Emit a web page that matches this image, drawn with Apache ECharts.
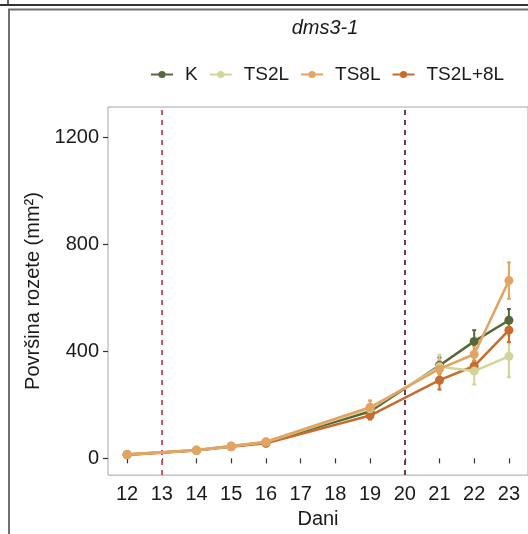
<!DOCTYPE html>
<html>
<head>
<meta charset="utf-8">
<script src="https://cdn.jsdelivr.net/npm/echarts@6/dist/echarts.min.js"></script>
<style>
	html, body { margin: 0; padding: 0; background: #fff; }
	#chart { width: 528px; height: 534px; }
</style>
</head>
<body>
<div id="chart"></div>
<script>
// dani mjerenja
var days = [12, 14, 15, 16, 19, 21, 22, 23];
var xTicks = [12, 13, 14, 15, 16, 17, 18, 19, 20, 21, 22, 23];
var yTicks = [0, 400, 800, 1200];
var names = ['K', 'TS2L', 'TS8L', 'TS2L+8L'];

// srednje vrijednosti (mm2)
var valK = [14, 30, 45, 60, 175, 347, 437, 516];
var valTS2L = [14, 30, 45, 61, 186, 342, 326, 381];
var valTS8L = [15, 31, 46, 62, 191, 334, 389, 664];
var valTS2L8L = [13, 29, 43, 56, 160, 292, 345, 479];

// standardna greska
var errK = [3, 3, 4, 5, 15, 30, 42, 42];
var errTS2L = [3, 3, 4, 5, 30, 45, 50, 78];
var errTS8L = [3, 3, 4, 6, 25, 30, 30, 68];
var errTS2L8L = [3, 3, 4, 5, 15, 35, 20, 45];

// vertikalne linije (tretmani)
var markDays = [13, 20];

var colors = {
	'K': '#56683a',
	'TS2L': '#d3d49a',
	'TS8L': '#e3a463',
	'TS2L+8L': '#c66c2c'
};

var font = 'Liberation Sans, Arial, Helvetica, sans-serif';

function pts(vals) {
	var list = [];
	for (var i = 0; i < days.length; i++) {
		list.push([days[i], vals[i]]);
	}
	return list;
}

function errs(vals, e) {
	var list = [];
	for (var i = 0; i < days.length; i++) {
		list.push([days[i], vals[i] - e[i], vals[i] + e[i]]);
	}
	return list;
}

function errSeries(name, vals, e) {
	var c = colors[name];
	return {
		name: name + '_err',
		type: 'custom',
		z: 2,
		silent: true,
		encode: { x: 0, y: [1, 2] },
		data: errs(vals, e),
		renderItem: function (params, api) {
			var top = api.coord([api.value(0), api.value(2)]);
			var bot = api.coord([api.value(0), api.value(1)]);
			var st = { stroke: c, lineWidth: 2 };
			return {
				type: 'group',
				children: [
					{ type: 'line', shape: { x1: top[0], y1: top[1], x2: bot[0], y2: bot[1] }, style: st },
					{ type: 'line', shape: { x1: top[0] - 2, y1: top[1], x2: top[0] + 2, y2: top[1] }, style: st },
					{ type: 'line', shape: { x1: bot[0] - 2, y1: bot[1], x2: bot[0] + 2, y2: bot[1] }, style: st }
				]
			};
		}
	};
}

function lineSeries(name, vals, z) {
	return {
		name: name,
		type: 'line',
		z: z,
		data: pts(vals),
		symbol: 'circle',
		symbolSize: 9,
		showSymbol: true,
		itemStyle: { color: colors[name] },
		lineStyle: { color: colors[name], width: 2.5 },
		emphasis: { disabled: true }
	};
}

var series = [
	errSeries('K', valK, errK),
	errSeries('TS2L', valTS2L, errTS2L),
	errSeries('TS2L+8L', valTS2L8L, errTS2L8L),
	errSeries('TS8L', valTS8L, errTS8L),
	lineSeries('K', valK, 3),
	lineSeries('TS2L+8L', valTS2L8L, 4),
	lineSeries('TS2L', valTS2L, 5),
	lineSeries('TS8L', valTS8L, 6)
];

// isprekidane linije
series.push({
	name: 'marks',
	type: 'line',
	data: [],
	silent: true,
	markLine: {
		symbol: 'none',
		silent: true,
		label: { show: false },
		data: [
			{ xAxis: markDays[0], lineStyle: { color: '#c9566b', width: 2, type: [5, 5] } },
			{ xAxis: markDays[1], lineStyle: { color: '#6d3d52', width: 2, type: [5, 5] } }
		]
	}
});

var option = {
	animation: false,
	backgroundColor: '#fff',
	title: {
		text: 'dms3-1',
		left: 320,
		textAlign: 'center',
		top: 13,
		textStyle: {
			fontFamily: font,
			fontStyle: 'italic',
			fontWeight: 'normal',
			fontSize: 20,
			color: '#1a1a1a'
		}
	},
	legend: {
		data: names,
		left: 145,
		top: 60,
		itemWidth: 22,
		itemHeight: 9,
		itemGap: 11,
		textStyle: { fontFamily: font, fontSize: 19, color: '#1a1a1a', padding: [0, 0, 0, 7] }
	},
	grid: {
		left: 108,
		top: 107,
		width: 423,
		height: 369,
		show: true,
		borderColor: '#a6a6a6',
		borderWidth: 1,
		containLabel: false
	},
	xAxis: {
		type: 'value',
		min: 11.45,
		max: 23.55,
		name: 'Dani',
		nameLocation: 'middle',
		nameGap: 31,
		nameTextStyle: { fontFamily: font, fontSize: 20, color: '#1a1a1a' },
		axisLine: { show: false },
		splitLine: { show: false },
		axisTick: { show: true, length: 5, customValues: xTicks, lineStyle: { color: '#333', width: 1.2 } },
		axisLabel: { customValues: xTicks, margin: 9, fontFamily: font, fontSize: 20, color: '#1a1a1a' }
	},
	yAxis: {
		type: 'value',
		min: -62.5,
		max: 1312.5,
		name: 'Površina rozete (mm²)',
		nameLocation: 'middle',
		nameGap: 62,
		nameTextStyle: { fontFamily: font, fontSize: 20, color: '#1a1a1a' },
		axisLine: { show: false },
		splitLine: { show: false },
		axisTick: { show: true, length: 5, customValues: yTicks, lineStyle: { color: '#333', width: 1.2 } },
		axisLabel: {
			customValues: yTicks,
			margin: 9,
			fontFamily: font,
			fontSize: 20,
			color: '#1a1a1a',
			formatter: function (v) { return String(v); }
		}
	},
	graphic: [
		{ type: 'line', shape: { x1: 0, y1: 5, x2: 528, y2: 5 }, style: { stroke: '#333', lineWidth: 2 } },
		{ type: 'line', shape: { x1: 8, y1: 0, x2: 8, y2: 5 }, style: { stroke: '#333', lineWidth: 1.5 } },
		{ type: 'line', shape: { x1: 8, y1: 9.5, x2: 528, y2: 9.5 }, style: { stroke: '#707070', lineWidth: 2 } },
		{ type: 'line', shape: { x1: 9, y1: 9, x2: 9, y2: 534 }, style: { stroke: '#707070', lineWidth: 2 } }
	],
	series: series
};

var chart = echarts.init(document.getElementById('chart'));
chart.setOption(option);
</script>
</body>
</html>
